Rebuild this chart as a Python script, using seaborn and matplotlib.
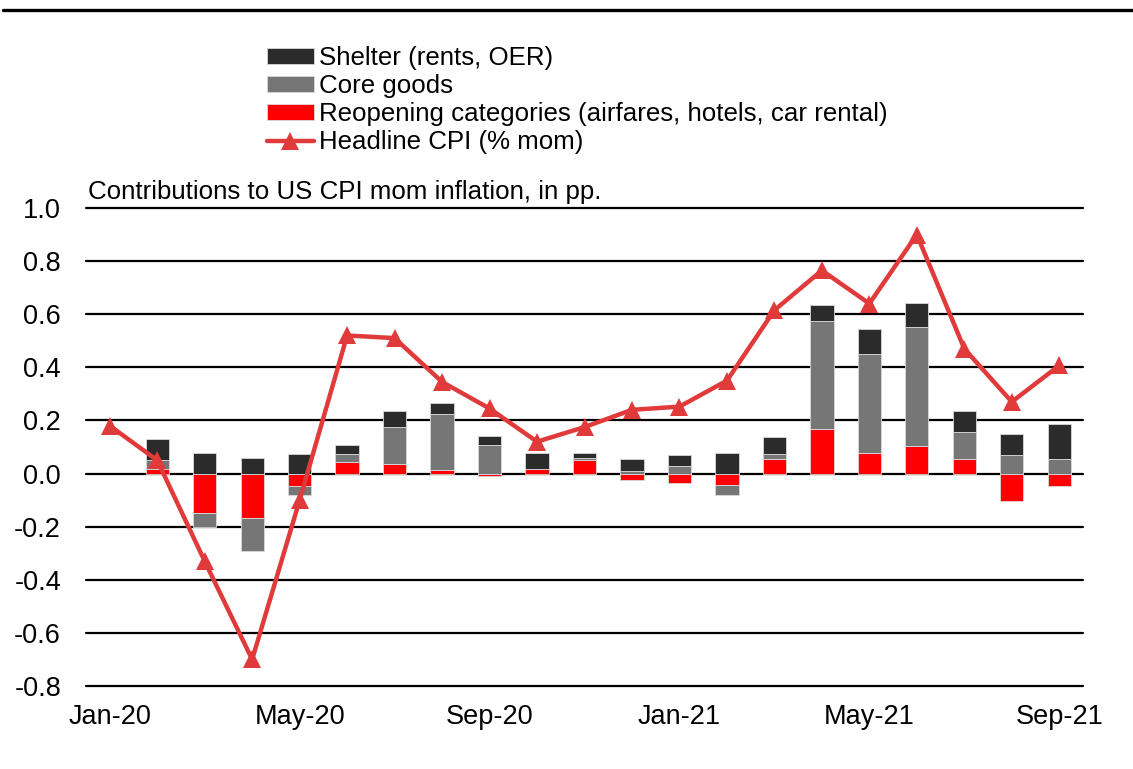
import numpy as np
import pandas as pd
import matplotlib
matplotlib.use("Agg")
import matplotlib.pyplot as plt
from matplotlib.lines import Line2D
import seaborn as sns

# ---- data ----
months = ["Jan-20", "Feb-20", "Mar-20", "Apr-20", "May-20", "Jun-20", "Jul-20",
          "Aug-20", "Sep-20", "Oct-20", "Nov-20", "Dec-20", "Jan-21", "Feb-21",
          "Mar-21", "Apr-21", "May-21", "Jun-21", "Jul-21", "Aug-21", "Sep-21"]
reopening = [np.nan, 0.016, -0.148, -0.166, -0.047, 0.045, 0.035, 0.014, -0.008, 0.016, 0.050,
             -0.025, -0.036, -0.042, 0.055, 0.169, 0.078, 0.103, 0.055, -0.103, -0.047]
core_goods = [np.nan, 0.034, -0.052, -0.127, -0.035, 0.028, 0.139, 0.209, 0.109, 0.003, 0.010,
              0.011, 0.028, -0.040, 0.017, 0.406, 0.372, 0.449, 0.101, 0.068, 0.053]
shelter = [np.nan, 0.080, 0.079, 0.059, 0.075, 0.033, 0.061, 0.041, 0.033, 0.060, 0.019,
           0.044, 0.042, 0.078, 0.065, 0.061, 0.093, 0.091, 0.078, 0.082, 0.133]
headline = [0.18, 0.05, -0.33, -0.70, -0.10, 0.52, 0.51, 0.345, 0.245, 0.12, 0.175,
            0.24, 0.252, 0.35, 0.615, 0.765, 0.64, 0.90, 0.47, 0.27, 0.407]
tick_labels = ["Jan-20", "May-20", "Sep-20", "Jan-21", "May-21", "Sep-21"]
yticks = [-0.8, -0.6, -0.4, -0.2, 0.0, 0.2, 0.4, 0.6, 0.8, 1.0]

series_names = ["Shelter (rents, OER)", "Core goods",
                "Reopening categories (airfares, hotels, car rental)"]
line_name = "Headline CPI (% mom)"
title = "Contributions to US CPI mom inflation, in pp."

# ---- style ----
sns.set_theme(style="white")
plt.rcParams["font.family"] = ["Liberation Sans", "DejaVu Sans"]
plt.rcParams["text.color"] = "black"

c_shelter = "#2b2b2b"
c_core = "#767676"
c_reopen = "#ff0000"
c_line = "#e03a3a"

W, H = 1133, 769
fig = plt.figure(figsize=(W / 100, H / 100), dpi=100)
ax = fig.add_axes([86 / W, 1 - 686 / H, (1083 - 86) / W, (686 - 208) / H])

x = np.arange(len(months))
df = pd.DataFrame({"x": x, "month": months, "headline": headline})

# stacked bars: positives and negatives stacked separately, reopening nearest zero
pos = np.zeros(len(months))
neg = np.zeros(len(months))
bar_w = 0.49
handles = {}
for vals, col, name in [(reopening, c_reopen, series_names[2]),
                        (core_goods, c_core, series_names[1]),
                        (shelter, c_shelter, series_names[0])]:
    v = np.array(vals, dtype=float)
    bottom = np.where(v >= 0, pos, neg)
    b = ax.bar(x, v, bottom=bottom, width=bar_w, color=col, edgecolor="#d9d9d9",
               linewidth=0.6, zorder=3, label=name)
    handles[name] = b
    pos = pos + np.where(v >= 0, v, 0)
    neg = neg + np.where(v < 0, v, 0)

sns.lineplot(data=df, x="x", y="headline", ax=ax, color=c_line, linewidth=3.2,
             marker="^", markersize=13, markeredgewidth=0, zorder=5, legend=False)

ax.set_xlim(-0.5, len(months) - 0.5)
ax.set_ylim(-0.8, 1.0)
ax.set_yticks(yticks)
ax.set_yticklabels([f"{t:.1f}" for t in yticks])
ax.set_xticks([months.index(m) for m in tick_labels])
ax.set_xticklabels(tick_labels)
ax.tick_params(axis="both", length=0, labelsize=19.5, colors="black")
ax.tick_params(axis="y", pad=18)
ax.tick_params(axis="x", pad=13)
ax.set_xlabel("")
ax.set_ylabel("")
for s in ax.spines.values():
    s.set_visible(False)
for t in yticks:
    ax.axhline(t, color="black", linewidth=1.6, zorder=1, clip_on=False)
ax.grid(False)

# legend
line_handle = Line2D([], [], color=c_line, linewidth=3.2, marker="^", markersize=13,
                     markeredgewidth=0)
leg = fig.legend([handles[series_names[0]], handles[series_names[1]],
                  handles[series_names[2]], line_handle],
                 [series_names[0], series_names[1], series_names[2], line_name],
                 loc="upper left", bbox_to_anchor=(267 / W, 1 - 46 / H),
                 frameon=False, fontsize=18.6, borderpad=0, borderaxespad=0,
                 labelspacing=0.16, handlelength=1.8, handleheight=0.56,
                 handletextpad=0.2, numpoints=1, labelcolor="black")

fig.text(88 / W, 1 - 192 / H, title, fontsize=18.6, ha="left", va="center", color="black")
fig.add_artist(Line2D([3 / W, 1.0], [1 - 10 / H, 1 - 10 / H], color="black",
                      linewidth=2.4, transform=fig.transFigure))

fig.savefig("out.png", dpi=100)
